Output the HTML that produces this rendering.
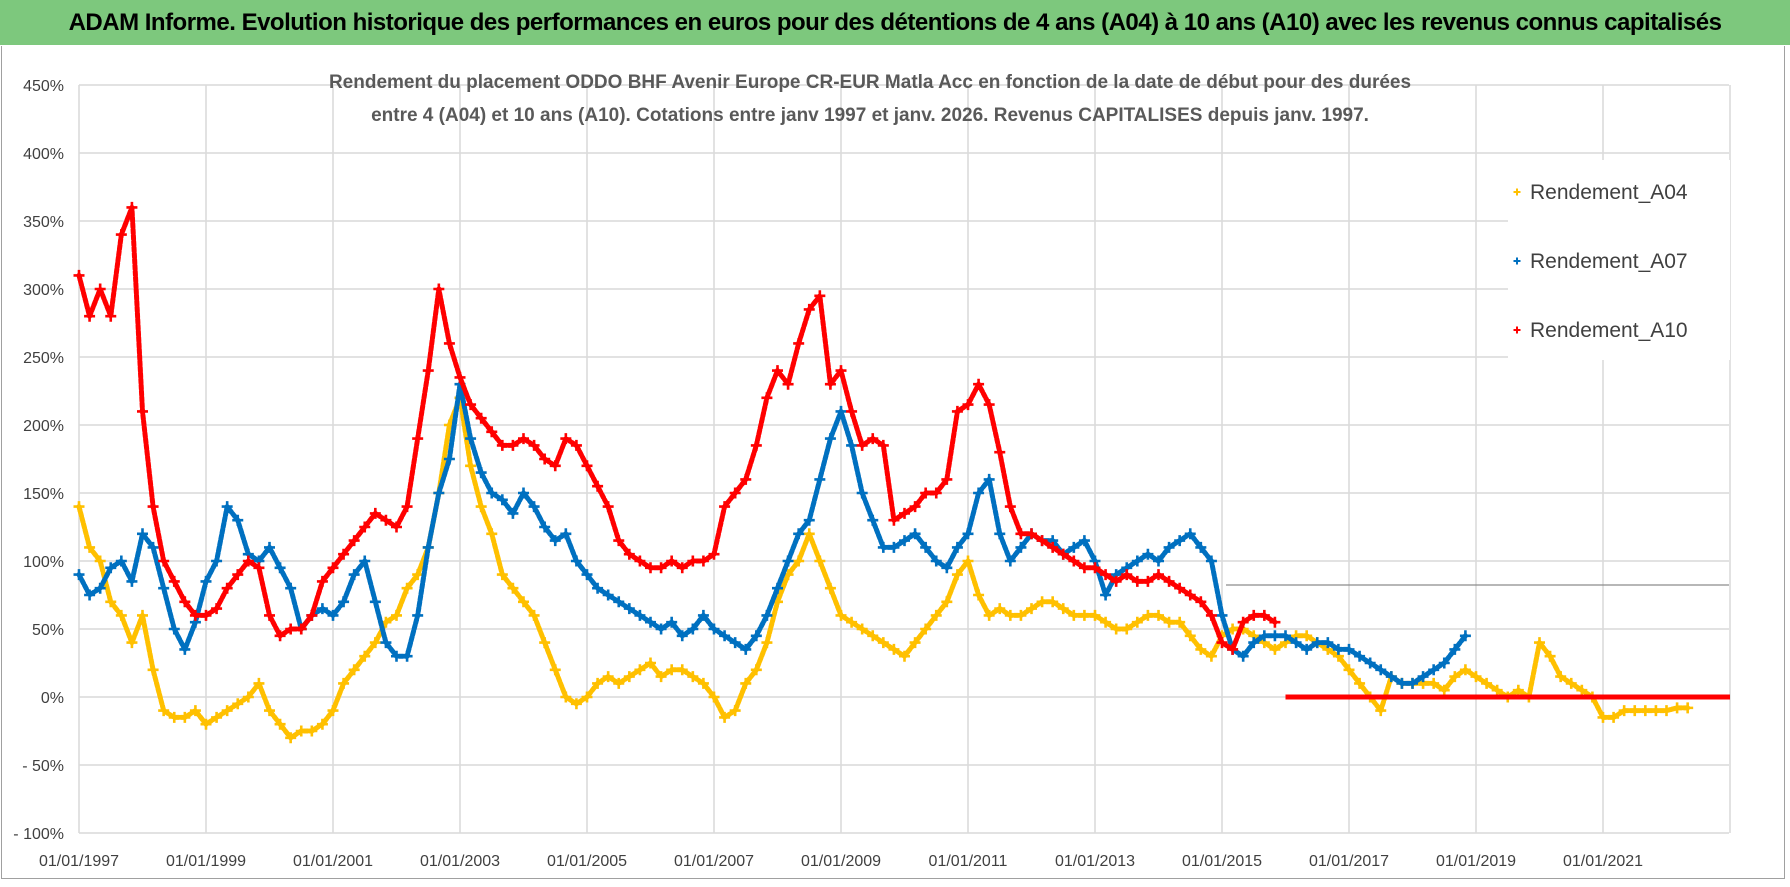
<!DOCTYPE html>
<html><head><meta charset="utf-8">
<style>
body{margin:0;width:1790px;height:887px;background:#fff;overflow:hidden;font-family:"Liberation Sans",sans-serif;}
#bar{position:absolute;left:0;top:0;width:1790px;height:45px;background:#7dc87d;font-weight:bold;font-size:24px;text-align:center;line-height:45px;color:#000;letter-spacing:-0.5px}
#frame{position:absolute;left:1px;top:46px;width:1782px;height:832px;border:1px solid #a0a0a0;border-top:none}
svg{position:absolute;left:0;top:0}
</style></head><body>
<div id="bar">ADAM Informe. Evolution historique des performances en euros pour des détentions de 4 ans (A04) à 10 ans (A10) avec les revenus connus capitalisés</div>
<div id="frame"></div>
<svg id="chart" width="1790" height="887"></svg>
<script>
const yTicks=[450,400,350,300,250,200,150,100,50,0,-50,-100];
const yTickLabels=["450%","400%","350%","300%","250%","200%","150%","100%","50%","0%","- 50%","- 100%"];
const xTickYears=[1997,1999,2001,2003,2005,2007,2009,2011,2013,2015,2017,2019,2021];
const xTickLabels=["01/01/1997","01/01/1999","01/01/2001","01/01/2003","01/01/2005","01/01/2007","01/01/2009","01/01/2011","01/01/2013","01/01/2015","01/01/2017","01/01/2019","01/01/2021"];
const seriesNames=["Rendement_A04","Rendement_A07","Rendement_A10"];
const seriesColors=["#ffc000","#0070c0","#ff0000"];
const step=1/6;
const a04Start=1997;
const a04=[140,110,100,70,60,40, 60,20,-10,-15,-15,-10, -20,-15,-10,-5,0,10, -10,-20,-30,-25,-25,-20, -10,10,20,30,40,55, 60,80,90,110,150,200, 220,170,140,120,90,80, 70,60,40,20,0,-5, 0,10,15,10,15,20, 25,15,20,20,15,10, 0,-15,-10,10,20,40, 70,90,100,120,100,80, 60,55,50,45,40,35, 30,40,50,60,70,90, 100,75,60,65,60,60, 65,70,70,65,60,60, 60,55,50,50,55,60, 60,55,55,45,35,30, 45,50,50,45,40,35, 40,45,45,40,35,30, 20,10,0,-10,15,10, 10,10,10,5,15,20, 15,10,5,0,5,0, 40,30,15,10,5,0, -15,-15,-10,-10,-10,-10, -10,-8,-8];
const a07Start=1997;
const a07=[90,75,80,95,100,85, 120,110,80,50,35,55, 85,100,140,130,105,100, 110,95,80,50,60,65, 60,70,90,100,70,40, 30,30,60,110,150,175, 230,190,165,150,145,135, 150,140,125,115,120,100, 90,80,75,70,65,60, 55,50,55,45,50,60, 50,45,40,35,45,60, 80,100,120,130,160,190, 210,185,150,130,110,110, 115,120,110,100,95,110, 120,150,160,120,100,110, 120,115,115,105,110,115, 100,75,90,95,100,105, 100,110,115,120,110,100, 60,35,30,40,45,45, 45,40,35,40,40,35, 35,30,25,20,15,10, 10,15,20,25,35,45];
const a10Start=1997;
const a10=[310,280,300,280,340,360, 210,140,100,85,70,60, 60,65,80,90,100,95, 60,45,50,50,60,85, 95,105,115,125,135,130, 125,140,190,240,300,260, 235,215,205,195,185,185, 190,185,175,170,190,185, 170,155,140,115,105,100, 95,95,100,95,100,100, 105,140,150,160,185,220, 240,230,260,285,295,230, 240,210,185,190,185,130, 135,140,150,150,160,210, 215,230,215,180,140,120, 120,115,110,105,100,95, 95,90,85,90,85,85, 90,85,80,75,70,60, 40,35,55,60,60,55];
const a10ZeroFrom=2016, a10ZeroTo=2023;

const svg=document.getElementById('chart');
const NS="http://www.w3.org/2000/svg";
const X0=79,X1=1729,Y0=85,Y1=833;
const xs=y=>X0+(y-1997)*63.5;
const ys=v=>697-v*1.36;
function mk(tag,attrs,parent){const e=document.createElementNS(NS,tag);for(const k in attrs)e.setAttribute(k,attrs[k]);(parent||svg).appendChild(e);return e;}

const grid=mk('g',{});


yTicks.forEach((t,i)=>{
  const l=mk('line',{x1:X0,x2:X1,y1:ys(t),y2:ys(t),stroke:'#d9d9d9','stroke-width':1.5},grid);
  
  
  const tx=mk('text',{x:64,y:ys(t)+6,'text-anchor':'end','font-size':16,fill:'#404040'});
  tx.textContent=yTickLabels[i];
  
  
});
for(let yr=1997;yr<=2023;yr+=2){
  const l=mk('line',{x1:xs(yr),x2:xs(yr),y1:Y0,y2:Y1,stroke:'#d9d9d9','stroke-width':1.5},grid);
  
  
}
xTickYears.forEach((yr,i)=>{
  const tx=mk('text',{x:xs(yr),y:866,'text-anchor':'middle','font-size':16,fill:'#404040'});
  tx.textContent=xTickLabels[i];
  
  
});
const ref=mk('line',{x1:1226,x2:X1,y1:585,y2:585,stroke:'#8c8c8c','stroke-width':1.2});



function plus(g,x,y,c,s,w){mk('path',{d:`M${x-s},${y}H${x+s}M${x},${y-s}V${y+s}`,stroke:c,'stroke-width':w||2.6,fill:'none'},g);}
function series(vals,start,color,name){
  const g=mk('g',{});
  
  
  const pts=vals.map((v,i)=>[xs(start+i*step),ys(v)]);
  mk('polyline',{points:pts.map(p=>p.join(',')).join(' '),fill:'none',stroke:color,'stroke-width':5,'stroke-linejoin':'round','stroke-linecap':'round','stroke-dasharray':'4 2'},g);
  pts.forEach(p=>plus(g,p[0],p[1],color,5.5));
  return g;
}
series(a04,a04Start,seriesColors[0],'series-a04');
series(a07,a07Start,seriesColors[1],'series-a07');
series(a10,a10Start,seriesColors[2],'series-a10');
const z=mk('line',{x1:xs(a10ZeroFrom),x2:xs(a10ZeroTo),y1:ys(0),y2:ys(0),stroke:seriesColors[2],'stroke-width':5});



const tt=mk('text',{'text-anchor':'middle','font-size':19,'font-weight':'bold',fill:'#595959'});


[["Rendement du placement ODDO BHF Avenir Europe CR-EUR Matla Acc en fonction de la date de début pour des durées",88],["entre 4 (A04) et 10 ans (A10). Cotations entre janv 1997 et janv. 2026. Revenus CAPITALISES depuis janv. 1997.",121]].forEach(([s,y])=>{const t=mk('tspan',{x:870,y:y},tt);t.textContent=s;});

const lg=mk('g',{});


mk('rect',{x:1508,y:160,width:222,height:200,fill:'#fff'},lg);
seriesNames.forEach((n,i)=>{
  const y=192+i*69;
  const e=mk('g',{},lg);
  
  
  plus(e,1517,y,seriesColors[i],3.5,2);
  const t=mk('text',{x:1530,y:y+7,'font-size':21,fill:'#404040'},e);
  t.textContent=n;
});
</script>
</body></html>
